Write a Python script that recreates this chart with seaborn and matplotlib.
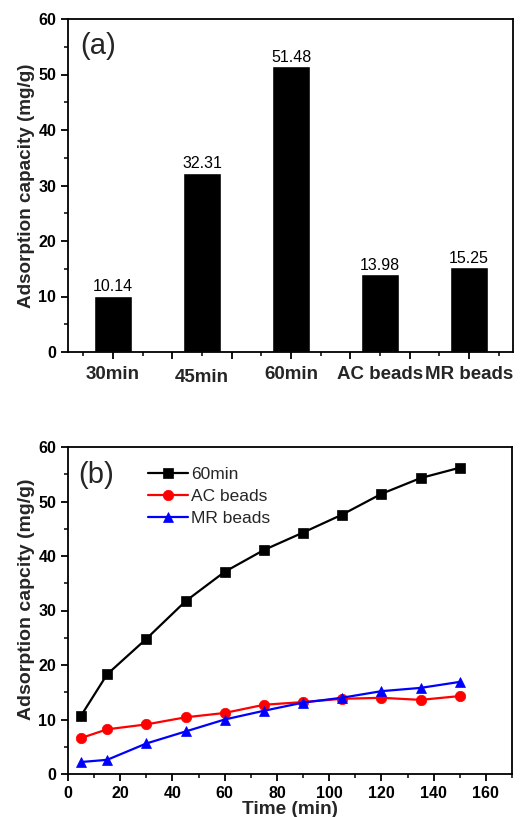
import matplotlib
matplotlib.use("Agg")
import matplotlib.pyplot as plt
import matplotlib.transforms as mtransforms
from matplotlib.ticker import MultipleLocator, FixedLocator, NullFormatter
import seaborn as sns
import pandas as pd

# ---------------- data ----------------
categories = ["30min", "45min", "60min", "AC beads", "MR beads"]
capacity = [10.14, 32.31, 51.48, 13.98, 15.25]

time_min = [5, 15, 30, 45, 60, 75, 90, 105, 120, 135, 150]
series_names = ["60min", "AC beads", "MR beads"]
cap_60min = [10.7, 18.3, 24.8, 31.7, 37.1, 41.1, 44.3, 47.6, 51.4, 54.3, 56.2]
cap_ac = [6.6, 8.2, 9.1, 10.4, 11.2, 12.7, 13.2, 13.8, 13.98, 13.6, 14.3]
cap_mr = [2.2, 2.6, 5.6, 7.8, 10.0, 11.6, 13.1, 14.0, 15.2, 15.8, 16.9]

sns.set_theme(style="ticks")
plt.rcParams["font.family"] = ["Liberation Sans", "DejaVu Sans"]
plt.rcParams["axes.linewidth"] = 1.3

fig = plt.figure(figsize=(5.25, 8.17), dpi=100)

# ---------------- panel (a) ----------------
ax1 = fig.add_axes([68/525, (817-352)/817, (513-68)/525, (352-19)/817])
df_a = pd.DataFrame({"category": categories, "capacity": capacity})
sns.barplot(data=df_a, x="category", y="capacity", order=categories,
            color="black", width=0.42, saturation=1, ax=ax1)
for c in ax1.containers:
    ax1.bar_label(c, labels=[f"{v:.2f}" for v in capacity], padding=1,
                  fontsize=11.5, color="black")
ax1.set_xlim(-0.506, 4.494)
ax1.set_ylim(0, 60)
ax1.yaxis.set_major_locator(MultipleLocator(10))
ax1.yaxis.set_minor_locator(MultipleLocator(5))
ax1.xaxis.set_major_locator(MultipleLocator(2/3))
ax1.xaxis.set_minor_locator(MultipleLocator(1/3))
ax1.xaxis.set_major_formatter(NullFormatter())
ax1.set_xlabel("")
ax1.set_ylabel("Adsorption capacity (mg/g)", fontsize=13.6, fontweight="bold")
ax1.yaxis.set_label_coords(-0.075, 0.5)
ax1.tick_params(axis="both", which="major", direction="out", length=5, width=1.3,
                labelsize=11.5, colors="black")
ax1.tick_params(axis="both", which="minor", direction="out", length=3, width=1.3)
for lab in ax1.get_yticklabels():
    lab.set_fontweight("bold")
for s in ax1.spines.values():
    s.set_visible(True)
    s.set_color("black")

sec = ax1.secondary_xaxis("bottom")
sec.xaxis.set_major_locator(FixedLocator(list(range(len(categories)))))
sec.set_xticklabels(categories, fontsize=13.5, fontweight="bold")
sec.tick_params(axis="x", length=0, pad=10)
sec.spines["bottom"].set_visible(False)
labs = sec.get_xticklabels()
labs[1].set_transform(labs[1].get_transform() +
                      mtransforms.ScaledTranslation(0, -3/100, fig.dpi_scale_trans))

ax1.text(0.027, 0.92, "(a)", transform=ax1.transAxes, fontsize=21,
         ha="left", va="center")

# ---------------- panel (b) ----------------
ax2 = fig.add_axes([68/525, (817-774)/817, (512-68)/525, (774-447)/817])
colors = {"60min": "black", "AC beads": "red", "MR beads": "blue"}
markers = {"60min": "s", "AC beads": "o", "MR beads": "^"}
values = {"60min": cap_60min, "AC beads": cap_ac, "MR beads": cap_mr}
for name in series_names:
    d = pd.DataFrame({"time": time_min, "cap": values[name]})
    sns.lineplot(data=d, x="time", y="cap", ax=ax2, color=colors[name],
                 marker=markers[name], markersize=7.5, markeredgecolor=colors[name],
                 markeredgewidth=0.5, linewidth=1.6, label=name)
ax2.set_xlim(0, 170)
ax2.set_ylim(0, 60)
ax2.xaxis.set_major_locator(MultipleLocator(20))
ax2.xaxis.set_minor_locator(MultipleLocator(10))
ax2.yaxis.set_major_locator(MultipleLocator(10))
ax2.yaxis.set_minor_locator(MultipleLocator(5))
ax2.tick_params(axis="both", which="major", direction="out", length=5, width=1.3,
                labelsize=11.5, colors="black")
ax2.tick_params(axis="both", which="minor", direction="out", length=3, width=1.3)
for lab in ax2.get_xticklabels() + ax2.get_yticklabels():
    lab.set_fontweight("bold")
ax2.set_xlabel("Time (min)", fontsize=13.7, fontweight="bold", va="top")
ax2.xaxis.set_label_coords(0.5, -0.082)
ax2.set_ylabel("Adsorption capcity (mg/g)", fontsize=14, fontweight="bold")
ax2.yaxis.set_label_coords(-0.075, 0.535)
for s in ax2.spines.values():
    s.set_visible(True)
    s.set_color("black")
ax2.legend(loc="upper left", bbox_to_anchor=(0.18, 0.94), frameon=False,
           fontsize=12.5, handlelength=2.3, handletextpad=0.2, labelspacing=0.4,
           borderaxespad=0, borderpad=0)
ax2.text(0.023, 0.914, "(b)", transform=ax2.transAxes, fontsize=21,
         ha="left", va="center")

fig.savefig("out.png", dpi=100)
